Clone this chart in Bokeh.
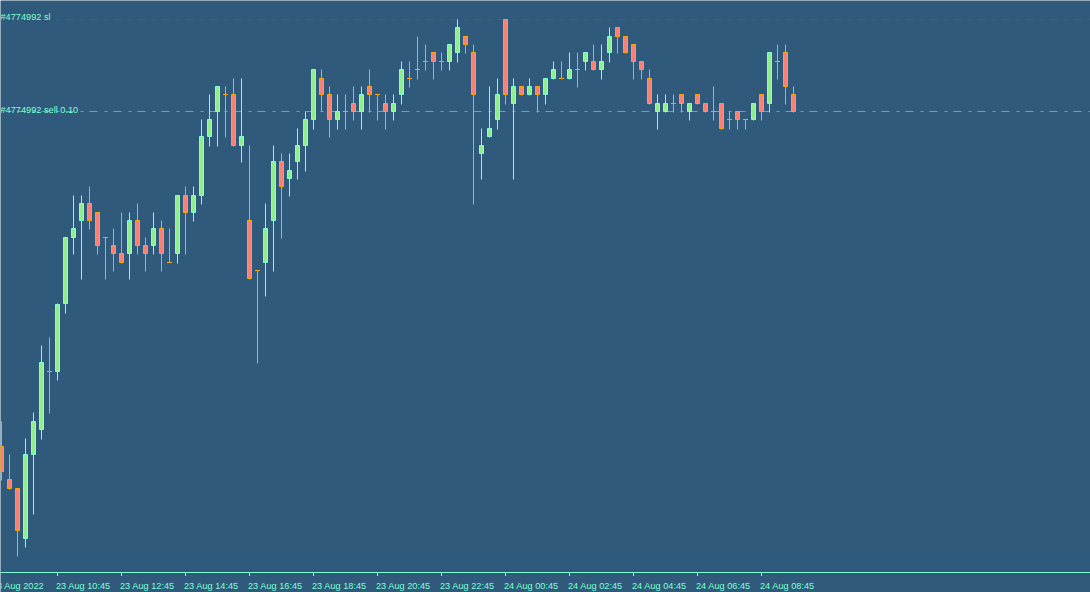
import pandas as pd
from bokeh.plotting import figure
from bokeh.models import Range1d, Span, Label, ColumnDataSource
from bokeh.core.properties import value
from bokeh.embed import file_html
from bokeh.resources import INLINE

# ---------------- data (EURUSD-like, M15 bars) ----------------
first_bar = "2022-08-23 09:00"
bar_minutes = 15

open_ = [0.99134, 0.99101, 0.99092, 0.99041, 0.99125, 0.99150, 0.99209, 0.99208, 0.99276, 0.99342,
         0.99359, 0.99377, 0.99368, 0.99343, 0.99335, 0.99327, 0.99326, 0.99360, 0.99335, 0.99334,
         0.99352, 0.99318, 0.99326, 0.99385, 0.99367, 0.99384, 0.99443, 0.99468, 0.99486, 0.99486,
         0.99434, 0.99360, 0.99310, 0.99317, 0.99359, 0.99419, 0.99401, 0.99418, 0.99434, 0.99460,
         0.99502, 0.99486, 0.99460, 0.99469, 0.99477, 0.99468, 0.99494, 0.99486, 0.99477, 0.99468,
         0.99485, 0.99502, 0.99511, 0.99519, 0.99528, 0.99519, 0.99518, 0.99527, 0.99544, 0.99528,
         0.99426, 0.99443, 0.99460, 0.99561, 0.99476, 0.99494, 0.99485, 0.99494, 0.99485, 0.99501,
         0.99502, 0.99501, 0.99511, 0.99518, 0.99519, 0.99510, 0.99527, 0.99553, 0.99544, 0.99536,
         0.99519, 0.99502, 0.99468, 0.99468, 0.99477, 0.99486, 0.99468, 0.99486, 0.99477, 0.99469,
         0.99477, 0.99461, 0.99469, 0.99461, 0.99460, 0.99486, 0.99476, 0.99519, 0.99528, 0.99486]

high = [0.99159, 0.99126, 0.99092, 0.99142, 0.99168, 0.99235, 0.99243, 0.99277, 0.99343, 0.99385,
        0.99385, 0.99394, 0.99368, 0.99343, 0.99352, 0.99368, 0.99368, 0.99377, 0.99343, 0.99368,
        0.99360, 0.99352, 0.99385, 0.99394, 0.99394, 0.99461, 0.99486, 0.99494, 0.99494, 0.99502,
        0.99502, 0.99435, 0.99310, 0.99377, 0.99435, 0.99427, 0.99427, 0.99452, 0.99469, 0.99511,
        0.99511, 0.99494, 0.99486, 0.99486, 0.99494, 0.99494, 0.99511, 0.99486, 0.99486, 0.99486,
        0.99519, 0.99519, 0.99544, 0.99536, 0.99528, 0.99528, 0.99536, 0.99561, 0.99544, 0.99536,
        0.99452, 0.99494, 0.99502, 0.99561, 0.99502, 0.99494, 0.99502, 0.99494, 0.99502, 0.99519,
        0.99519, 0.99528, 0.99528, 0.99528, 0.99536, 0.99536, 0.99553, 0.99553, 0.99544, 0.99536,
        0.99519, 0.99511, 0.99486, 0.99486, 0.99486, 0.99486, 0.99477, 0.99486, 0.99477, 0.99494,
        0.99477, 0.99469, 0.99469, 0.99461, 0.99477, 0.99486, 0.99528, 0.99536, 0.99536, 0.99494]

low = [0.99100, 0.99091, 0.99024, 0.99033, 0.99066, 0.99141, 0.99167, 0.99200, 0.99267, 0.99326,
       0.99301, 0.99351, 0.99326, 0.99301, 0.99309, 0.99317, 0.99301, 0.99326, 0.99309, 0.99326,
       0.99309, 0.99318, 0.99317, 0.99326, 0.99359, 0.99376, 0.99434, 0.99434, 0.99443, 0.99434,
       0.99418, 0.99301, 0.99217, 0.99284, 0.99309, 0.99342, 0.99384, 0.99401, 0.99409, 0.99451,
       0.99469, 0.99443, 0.99451, 0.99451, 0.99460, 0.99451, 0.99468, 0.99460, 0.99451, 0.99460,
       0.99476, 0.99493, 0.99501, 0.99510, 0.99501, 0.99510, 0.99510, 0.99518, 0.99527, 0.99376,
       0.99401, 0.99443, 0.99451, 0.99476, 0.99401, 0.99485, 0.99485, 0.99468, 0.99476, 0.99501,
       0.99502, 0.99501, 0.99493, 0.99510, 0.99510, 0.99501, 0.99518, 0.99527, 0.99527, 0.99501,
       0.99501, 0.99476, 0.99451, 0.99468, 0.99468, 0.99468, 0.99460, 0.99476, 0.99468, 0.99460,
       0.99451, 0.99451, 0.99451, 0.99451, 0.99460, 0.99460, 0.99468, 0.99501, 0.99476, 0.99468]

close = [0.99108, 0.99091, 0.99049, 0.99126, 0.99159, 0.99218, 0.99209, 0.99276, 0.99343, 0.99352,
         0.99377, 0.99359, 0.99334, 0.99343, 0.99326, 0.99317, 0.99360, 0.99334, 0.99326, 0.99352,
         0.99326, 0.99318, 0.99385, 0.99367, 0.99385, 0.99444, 0.99461, 0.99494, 0.99486, 0.99434,
         0.99444, 0.99301, 0.99310, 0.99352, 0.99419, 0.99393, 0.99410, 0.99435, 0.99461, 0.99511,
         0.99485, 0.99460, 0.99469, 0.99469, 0.99468, 0.99486, 0.99485, 0.99486, 0.99468, 0.99477,
         0.99511, 0.99502, 0.99511, 0.99519, 0.99518, 0.99519, 0.99536, 0.99553, 0.99535, 0.99485,
         0.99435, 0.99452, 0.99486, 0.99485, 0.99494, 0.99485, 0.99494, 0.99485, 0.99502, 0.99511,
         0.99502, 0.99511, 0.99511, 0.99528, 0.99510, 0.99519, 0.99544, 0.99543, 0.99527, 0.99518,
         0.99510, 0.99476, 0.99477, 0.99477, 0.99477, 0.99476, 0.99477, 0.99476, 0.99468, 0.99469,
         0.99451, 0.99461, 0.99460, 0.99461, 0.99477, 0.99468, 0.99528, 0.99519, 0.99493, 0.99468]

tick_times = ["2022-08-23 08:45", "2022-08-23 10:45", "2022-08-23 12:45", "2022-08-23 14:45",
              "2022-08-23 16:45", "2022-08-23 18:45", "2022-08-23 20:45", "2022-08-23 22:45",
              "2022-08-24 00:45", "2022-08-24 02:45", "2022-08-24 04:45", "2022-08-24 06:45",
              "2022-08-24 08:45"]
tick_labels = ["23 Aug 2022", "23 Aug 10:45", "23 Aug 12:45", "23 Aug 14:45",
               "23 Aug 16:45", "23 Aug 18:45", "23 Aug 20:45", "23 Aug 22:45",
               "24 Aug 00:45", "24 Aug 02:45", "24 Aug 04:45", "24 Aug 06:45",
               "24 Aug 08:45"]

sl_price = 0.99561
entry_price = 0.99469
sl_text = "#4774992 sl"
entry_text = "#4774992 sell 0.10"

# ---------------- style ----------------
POINT = 0.00001          # one price point == one pixel vertically
BG = "#2F5A7B"
BULL_FILL, BULL_LINE = "#90EE90", "#7FFFD4"
BEAR_FILL, BEAR_LINE = "#FA8072", "#FFA500"
SL_COL, ENTRY_COL = "#E81C1C", "#44CC44"
AXIS_COL = "#7FFFD4"
FONT = "Liberation Sans"
FS = "9.2px"
W, H = 1090, 592
AXIS_ROW = 572           # pixel row of the time-axis line
BAR_PX = 8.0
FIRST_PX = 1.0           # bokeh adds a 0.5px shift -> bar 0 centred on column 1

y_top = 0.99580
y_bot = y_top - H * POINT
x0 = -FIRST_PX / BAR_PX
x1 = x0 + W / BAR_PX

def row_price(r):
    return y_top - r * POINT

t0 = pd.Timestamp(first_bar)
n = len(open_)
idx = list(range(n))
tick_pos = [(pd.Timestamp(t) - t0) / pd.Timedelta(minutes=bar_minutes) for t in tick_times]

body_w = 4.0 / BAR_PX
doji_half = 2.5 / BAR_PX

bull = [c > o for o, c in zip(open_, close)]
doji = [abs(c - o) < 1e-9 for o, c in zip(open_, close)]

wick_src = ColumnDataSource(dict(
    x=idx, hi=high, lo=low,
    col=[BULL_LINE if b else BEAR_LINE for b in bull]))

bi = [i for i in idx if not doji[i]]
body_src = ColumnDataSource(dict(
    x=bi,
    top=[max(open_[i], close[i]) for i in bi],
    bot=[min(open_[i], close[i]) + POINT for i in bi],
    fill=[BULL_FILL if bull[i] else BEAR_FILL for i in bi],
    line=[BULL_LINE if bull[i] else BEAR_LINE for i in bi]))

di = [i for i in idx if doji[i]]
doji_src = ColumnDataSource(dict(
    xa=[i - doji_half for i in di], xb=[i + doji_half for i in di],
    y=[open_[i] for i in di]))

p = figure(width=W, height=H, output_backend="svg", toolbar_location=None,
           x_range=Range1d(x0, x1), y_range=Range1d(y_bot, y_top),
           x_axis_location=None, y_axis_location=None,
           min_border_left=0, min_border_right=0, min_border_top=0, min_border_bottom=0,
           background_fill_color=BG, border_fill_color=BG, outline_line_color=None)
p.grid.visible = False

# order lines (stop loss, entry) - dash-dot, drawn across the whole chart
lvl_src = ColumnDataSource(dict(
    xa=[x0, x0], xb=[x1, x1], y=[sl_price, entry_price], col=[SL_COL, ENTRY_COL]))
p.segment(x0="xa", y0="y", x1="xb", y1="y", color="col", line_width=1,
          line_dash="8 7 3 6", line_dash_offset=7, source=lvl_src)

p.segment(x0="x", y0="lo", x1="x", y1="hi", color="col", line_width=1, source=wick_src)
p.vbar(x="x", width=body_w, top="top", bottom="bot", fill_color="fill",
       line_color="line", line_width=1, source=body_src)
p.segment(x0="xa", y0="y", x1="xb", y1="y", color=BEAR_LINE, line_width=1, source=doji_src)

for lvl, txt, off in ((sl_price, sl_text, 3), (entry_price, entry_text, 2)):
    p.add_layout(Label(x=0, x_units="screen", y=lvl, y_offset=off, text=txt,
                       text_font=FONT, text_font_size=FS, text_color=AXIS_COL,
                       text_align="left", text_baseline="alphabetic"))

# time axis (MetaTrader style: line, short ticks, left-aligned labels)
p.add_layout(Span(location=row_price(AXIS_ROW), dimension="width",
                  line_color=AXIS_COL, line_width=1))
p.segment(x0=tick_pos, x1=tick_pos, y0=[row_price(AXIS_ROW + 0.5)] * len(tick_pos),
          y1=[row_price(AXIS_ROW + 3.5)] * len(tick_pos), color=AXIS_COL, line_width=1)
p.text(x=tick_pos, y=[row_price(AXIS_ROW + 13)] * len(tick_pos), text=tick_labels,
       x_offset=-1.5, text_font=value(FONT), text_font_size=FS, text_color=AXIS_COL,
       text_align="left", text_baseline="alphabetic")

open("out.html", "w").write(file_html(p, INLINE))
